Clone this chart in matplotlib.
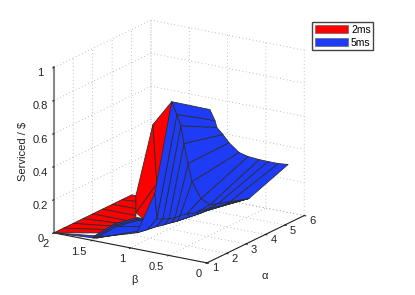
import matplotlib
matplotlib.use('Agg')
import matplotlib.pyplot as plt
from matplotlib.patches import Patch
import numpy as np

plt.rcParams['font.family'] = ['Liberation Sans', 'DejaVu Sans']
plt.rcParams['font.size'] = 8

alpha_ticks = [1, 2, 3, 4, 5, 6]
beta_ticks = [0, 0.5, 1, 1.5, 2]
beta_tick_labels = ['0', '0.5', '1', '1.5', '2']
z_ticks = [0, 0.2, 0.4, 0.6, 0.8, 1]
z_tick_labels = ['0', '0.2', '0.4', '0.6', '0.8', '1']
legend_labels = ['2ms', '5ms']

# 5ms surface, one row per sweep
alpha_5ms = [
    [1.94, 2.20, 2.30, 2.61, 2.92, 3.44, 3.90, 4.47, 4.93, 5.45, 5.96],
    [1.00, 1.27, 1.47, 1.63, 1.84, 2.04, 2.51, 2.97, 3.38, 4.00, 6.00],
    [1.08, 1.18, 1.49, 1.80, 2.11, 2.37, 2.73, 3.19, 3.65, 4.74, 6.00],
    [1.02, 1.54, 2.00, 2.41, 2.77, 3.13, 3.75, 4.22, 4.63, 5.66, 6.00],
    [1.00, 1.25, 2.40, 3.20, 2.77, 3.13, 3.75, 4.22, 4.63, 5.66, 6.00],
    [1.00, 1.32, 2.50, 3.28, 2.77, 3.13, 3.75, 4.22, 4.63, 5.66, 6.00],
    [1.00, 1.39, 2.59, 3.37, 2.77, 3.13, 3.75, 4.22, 4.63, 5.66, 6.00],
    [1.00, 1.39, 2.59, 3.37, 2.77, 3.13, 3.75, 4.22, 4.63, 5.66, 6.00],
]
beta_5ms = [
    [0.20, 0.20, 0.20, 0.20, 0.20, 0.20, 0.20, 0.20, 0.20, 0.20, 0.20],
    [0.46, 0.46, 0.46, 0.46, 0.46, 0.46, 0.46, 0.46, 0.46, 0.46, 0.72],
    [0.70, 0.70, 0.70, 0.70, 0.70, 0.70, 0.70, 0.70, 0.70, 0.70, 0.72],
    [0.92, 0.92, 0.92, 0.92, 0.92, 0.92, 0.92, 0.92, 0.92, 0.92, 0.72],
    [1.49, 1.50, 1.54, 1.45, 0.92, 0.92, 0.92, 0.92, 0.92, 0.92, 0.72],
    [1.49, 1.53, 1.57, 1.48, 0.92, 0.92, 0.92, 0.92, 0.92, 0.92, 0.72],
    [1.49, 1.562, 1.606, 1.516, 0.92, 0.92, 0.92, 0.92, 0.92, 0.92, 0.72],
    [2.00, 1.562, 1.606, 1.516, 0.92, 0.92, 0.92, 0.92, 0.92, 0.92, 0.72],
]
serviced_5ms = [
    [0.855, 0.774, 0.726, 0.666, 0.599, 0.510, 0.459, 0.408, 0.370, 0.328, 0.293],
    [0.933, 0.840, 0.761, 0.644, 0.511, 0.390, 0.261, 0.198, 0.180, 0.157, 0.038],
    [0.356, 0.193, 0.175, 0.158, 0.146, 0.144, 0.135, 0.115, 0.106, 0.078, 0.038],
    [0.097, 0.086, 0.078, 0.066, 0.058, 0.049, 0.038, 0.030, 0.025, 0.002, 0.038],
    [0.016, 0.000, 0.000, 0.000, 0.058, 0.049, 0.038, 0.030, 0.025, 0.002, 0.038],
    [0.016, 0.000, 0.000, 0.000, 0.058, 0.049, 0.038, 0.030, 0.025, 0.002, 0.038],
    [0.016, 0.000, 0.000, 0.000, 0.058, 0.049, 0.038, 0.030, 0.025, 0.002, 0.038],
    [0.000, 0.000, 0.000, 0.000, 0.058, 0.049, 0.038, 0.030, 0.025, 0.002, 0.038],
]

# 2ms surface, flat part
alpha_2ms_flat = [
    [1.0, 1.5, 2.0, 2.5, 3.0, 3.5, 4.0, 4.5, 5.0],
    [1.0, 1.5, 2.0, 2.5, 3.01, 3.52, 4.04, 4.58, 5.02],
]
beta_2ms_flat = [
    [2, 2, 2, 2, 2, 2, 2, 2, 2],
    [1.333, 1.329, 1.325, 1.387, 1.437, 1.567, 1.70, 1.836, 1.948],
]
serviced_2ms_flat = [
    [0, 0, 0, 0, 0, 0, 0, 0, 0],
    [0.06, 0.05, 0.04, 0.019, 0, 0, 0, 0, 0],
]

# 2ms surface, steep part
alpha_2ms_steep = [
    [5.02, 3.73, 2.5],
    [1.5, 1.5, 2.0],
    [1.0, 2.0, 2.0],
]
beta_2ms_steep = [
    [1.948, 1.62, 1.152],
    [0.833, 0.78, 0.803],
    [0.46, 0.711, 0.711],
]
serviced_2ms_steep = [
    [0, 0, 0.052],
    [0.732, 0.379, 0.216],
    [0.933, 0.375, 0.375],
]

red = '#ff0000'
blue = '#1e3cf5'
edge = '#2a2a2a'

fig = plt.figure(figsize=(4.15, 2.95), dpi=100)
ax = fig.add_axes([27.5 / 415, 2 / 295, 295 / 415, 1], projection='3d', proj_type='ortho')
ax.view_init(elev=18, azim=-147.6)
ax.set_box_aspect((181, 181, 173.5), zoom=1.02)
ax.computed_zorder = False
ax.patch.set_alpha(0)


def draw(a, b, z, color, order):
    ax.plot_surface(np.array(a), np.array(b), np.array(z), rstride=1, cstride=1,
                    color=color, shade=False, edgecolor=edge, linewidth=0.55,
                    antialiased=True, zorder=order)


draw(alpha_2ms_flat, beta_2ms_flat, serviced_2ms_flat, red, 2)
draw(alpha_2ms_steep, beta_2ms_steep, serviced_2ms_steep, red, 3)
draw(alpha_5ms, beta_5ms, serviced_5ms, blue, 4)

ax.set_xlim(1, 6, view_margin=0)
ax.set_ylim(0, 2, view_margin=0)
ax.set_zlim(0, 1, view_margin=0)
ax.set_xticks(alpha_ticks)
ax.set_yticks(beta_ticks)
ax.set_yticklabels(beta_tick_labels)
ax.set_zticks(z_ticks)
ax.set_zticklabels(z_tick_labels)

for axis in (ax.xaxis, ax.yaxis, ax.zaxis):
    axis.set_pane_color((1, 1, 1, 0))
    axis.pane.set_edgecolor('none')
    axis.line.set_color('#222222')
    axis.line.set_linewidth(0.8)
    axis._axinfo['grid'].update(color='#8a8a8a', linestyle=(0, (1, 4)), linewidth=0.5)
    axis._axinfo['tick'].update(inward_factor=0.12, outward_factor=0.0)
    axis.set_tick_params(labelsize=8, colors='#222222', pad=-2, width=0.5)

ax.zaxis.line.set_color('#888888')
ax.zaxis.line.set_linewidth(1.5)

for tick in ax.xaxis.get_major_ticks():
    tick.label1.set_verticalalignment('bottom')
for tick in ax.yaxis.get_major_ticks():
    tick.label1.set_verticalalignment('center')
    tick.label1.set_horizontalalignment('right')

fig.text(265 / 415, 1 - 276 / 295, 'α', ha='center', va='center', fontsize=8, color='#222222')
fig.text(134 / 415, 1 - 280 / 295, 'β', ha='center', va='center', fontsize=8, color='#222222')
fig.text(23 / 415, 1 - 151 / 295, 'Serviced / $', rotation=90, ha='center', va='center',
         fontsize=8, color='#222222')

handles = [Patch(facecolor=red, edgecolor='#555555', linewidth=0.4),
           Patch(facecolor=blue, edgecolor='#555555', linewidth=0.4)]
leg = fig.legend(handles, legend_labels, loc='upper left',
                 bbox_to_anchor=(312 / 415, 1 - 22 / 295), fontsize=7.5, fancybox=False,
                 framealpha=1, edgecolor='#444444', borderpad=0.25, labelspacing=0.3,
                 handlelength=3.2, handleheight=0.8, handletextpad=0.3, borderaxespad=0)
leg.get_frame().set_linewidth(1.0)

fig.savefig('out.png', dpi=100)
